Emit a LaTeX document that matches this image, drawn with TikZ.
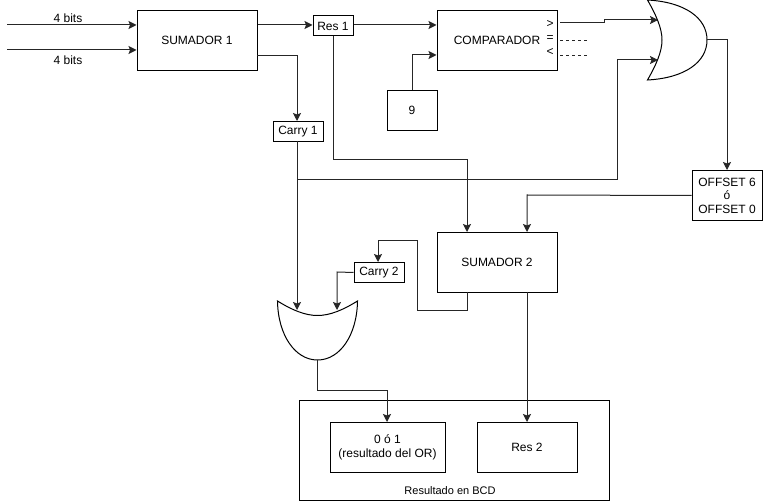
\documentclass[tikz,border=0pt]{standalone}
\usepackage{fontspec}
\setmainfont{Liberation Sans}
\usetikzlibrary{arrows.meta}
\tikzset{
  box/.style={draw=black,fill=white,line width=1pt,inner sep=0pt,align=center,font=\fontsize{12}{13.5}\selectfont},
  wire/.style={draw=black!85,line width=1pt},
  arr/.style={wire,-{Stealth[length=8pt,width=8pt,inset=1.5pt]}},
  dashwire/.style={draw=black!85,line width=.8pt,dash pattern=on 3pt off 3pt},
  lbl/.style={inner sep=0pt,font=\fontsize{12}{13.5}\selectfont},
  gate/.style={draw=black,fill=white,line width=1pt,line join=miter}
}
\begin{document}
\begin{tikzpicture}[x=1pt,y=-1pt]
\useasboundingbox (0,0) rectangle (763,502);
% outer container
\node[box,minimum width=310pt,minimum height=99pt] (bcd) at (454,450.5) {};
\node[lbl,font=\fontsize{11}{13}\selectfont] (bcdlbl) at (450,491) {Resultado en BCD};
% boxes
\node[box,minimum width=120pt,minimum height=60pt] (sum1) at (197,40.5) {SUMADOR 1};
\node[box,minimum width=40pt,minimum height=20pt] (res1) at (333,26) {Res 1};
\node[box,minimum width=120pt,minimum height=60pt] (comp) at (497,40.5) {COMPARADOR};
\node[box,minimum width=50pt,minimum height=40pt] (nine) at (412,110.5) {9};
\node[box,minimum width=50pt,minimum height=20pt] (carry1) at (298,131.5) {Carry 1};
\node[box,minimum width=70pt,minimum height=50pt] (off) at (727,195.5) {OFFSET 6\\ó\\OFFSET 0};
\node[box,minimum width=120pt,minimum height=60pt] (sum2) at (497,262.5) {SUMADOR 2};
\node[box,minimum width=50pt,minimum height=20pt] (carry2) at (379,272.5) {Carry 2};
\node[box,minimum width=115pt,minimum height=50pt] (zero) at (387.5,447.5) {0 ó 1\\(resultado del OR)};
\node[box,minimum width=100pt,minimum height=50pt] (res2) at (527,447.5) {Res 2};
% comparator output labels
\node[lbl] (gt) at (550,24) {>};
\node[lbl] (eq) at (550,39) {=};
\node[lbl] (lt) at (550,52) {<};
% bit labels
\node[lbl] (b1) at (68,18) {4 bits};
\node[lbl] (b2) at (68,60) {4 bits};
% free ends and pins
\coordinate (in1) at (7,25);
\coordinate (in2) at (7,50);
\coordinate (cgt) at (560,23);
\coordinate (ceq) at (560,40);
\coordinate (ceqe) at (588,40);
\coordinate (clt) at (560,55);
\coordinate (clte) at (588,55);
\coordinate (or1a) at (658,20);
\coordinate (or1b) at (658,60);
\coordinate (or1o) at (707,40);
\coordinate (or2a) at (297,310);
\coordinate (or2b) at (337,310);
\coordinate (or2o) at (317,360);
\coordinate (split) at (297,180);
% gates
\path[gate] (647.5,0) .. controls (656,15) and (662,28) .. (662,40)
  .. controls (662,52) and (656,65) .. (647.5,80)
  .. controls (685,78) and (707,62) .. (707,40)
  .. controls (707,18) and (685,2) .. (647.5,0) -- cycle;
\path[gate] (277.5,301) .. controls (292,310) and (305,315.5) .. (317.5,315.5)
  .. controls (330,315.5) and (343,310) .. (357.5,301)
  .. controls (357,335) and (340,360) .. (317.5,360)
  .. controls (295,360) and (278,335) .. (277.5,301) -- cycle;
% connectors
\draw[arr] (in1) -- (in1 -| sum1.west);
\draw[arr] (in2) -- (in2 -| sum1.west);
\draw[arr] (in1 -| sum1.east) -- (in1 -| res1.west);
\draw[arr] (in1 -| res1.east) -- (in1 -| comp.west);
\draw[arr] (nine.north) -- (412,55) -- (412,55 -| comp.west);
\draw[arr] (257,56) -- (297,56) -- (297,121);
\draw[arr] (297,141) -- (or2a);
\draw[arr] (split) -- (617,180) -- (617,60) -- (or1b);
\draw[arr] (res1.south) -- (333,160) -- (467,160) -- (467,232);
\draw[arr] (cgt) -- (604,23) -- (604,20) -- (or1a);
\draw[dashwire] (ceq) -- (ceqe);
\draw[dashwire] (clt) -- (clte);
\draw[arr] (or1o) -- (727,40) -- (off.north);
\draw[arr] (off.west) -- (527,195) -- (527,232);
\draw[arr] (527,292) -- (527,422);
\draw[arr] (467,292) -- (467,311) -- (417,311) -- (417,241) -- (378,241) -- (378,262);
\draw[arr] (carry2.west) -- (337,272) -- (or2b);
\draw[arr] (or2o) -- (317,391) -- (387,391) -- (387,422);
\end{tikzpicture}
\end{document}
